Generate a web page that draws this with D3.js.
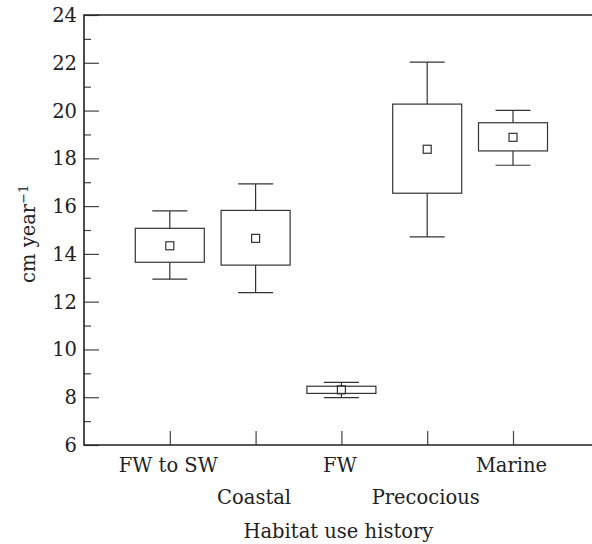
<!DOCTYPE html>
<html>
<head>
<meta charset="utf-8">
<script src="https://cdn.jsdelivr.net/npm/d3@7"></script>
<style>
  body { margin: 0; background: #fff; }
  text { font-family: "DejaVu Serif", serif; fill: #222; }
</style>
</head>
<body>
<svg id="chart" width="592" height="544"></svg>
<script>
// data (cm per year)
const categories = ['FW to SW', 'Coastal', 'FW', 'Precocious', 'Marine']
const whiskerLow = [12.94, 12.38, 7.98, 14.71, 17.71]
const boxLow = [13.65, 13.53, 8.16, 16.54, 18.31]
const means = [14.34, 14.65, 8.31, 18.38, 18.88]
const boxHigh = [15.07, 15.82, 8.46, 20.27, 19.49]
const whiskerHigh = [15.80, 16.93, 8.62, 22.03, 20.01]
const yTicks = [6, 8, 10, 12, 14, 16, 18, 20, 22, 24]
const yMinor = [7, 9, 11, 13, 15, 17, 19, 21, 23]

const svg = d3.select('#chart')
const padLeft = 84, padTop = 15, padBottom = 445, padRight = 592
const fontSize = '19.5px'

const data = categories.map((c, i) => ({
  name: c, pos: i + 1,
  wlo: whiskerLow[i], lo: boxLow[i], mean: means[i], hi: boxHigh[i], whi: whiskerHigh[i]
}))

const x = d3.scaleLinear().domain([0, 6]).range([padLeft, padLeft + 6 * 85.8])
const y = d3.scaleLinear().domain([6, 24]).range([padBottom, padTop])

const boxW = 69, capW = 35, meanS = 8
const ink = '#222'

// y axis ticks, major and minor, pointing inward
const yAxis = svg.append('g')
  .attr('transform', `translate(${padLeft},0)`)
  .call(d3.axisRight(y).tickValues(yTicks).tickSize(15).tickFormat(''))
yAxis.select('.domain').remove()
yAxis.selectAll('line').attr('stroke', '#444').attr('stroke-width', 1.2)

const yMin = svg.append('g')
  .attr('transform', `translate(${padLeft},0)`)
  .call(d3.axisRight(y).tickValues(yMinor).tickSize(7).tickFormat(''))
yMin.select('.domain').remove()
yMin.selectAll('line').attr('stroke', '#444').attr('stroke-width', 1.2)

svg.append('g').selectAll('text')
  .data(yTicks)
  .join('text')
  .attr('x', 77)
  .attr('y', d => y(d))
  .attr('dy', '0.36em')
  .attr('text-anchor', 'end')
  .style('font-size', fontSize)
  .text(d => d)

// x ticks
const xAxis = svg.append('g')
  .attr('transform', `translate(0,${padBottom})`)
  .call(d3.axisTop(x).tickValues(data.map(d => d.pos)).tickSize(14).tickFormat(''))
xAxis.select('.domain').remove()
xAxis.selectAll('line').attr('stroke', '#444').attr('stroke-width', 1.2)

// frame: top, left and bottom lines
svg.append('path')
  .attr('d', `M${padRight},${padTop}H${padLeft}V${padBottom}H${padRight}`)
  .attr('fill', 'none')
  .attr('stroke', ink)
  .attr('stroke-width', 1.6)

// category labels, staggered in two rows
svg.append('g').selectAll('text')
  .data(data)
  .join('text')
  .attr('x', d => x(d.pos) - 1.5)
  .attr('y', (d, i) => i % 2 === 0 ? 472 : 504)
  .attr('text-anchor', 'middle')
  .style('font-size', fontSize)
  .text(d => d.name)

svg.append('text')
  .attr('x', x(3) - 3)
  .attr('y', 538)
  .attr('text-anchor', 'middle')
  .style('font-size', fontSize)
  .text('Habitat use history')

// y title
const yt = svg.append('text')
  .attr('transform', `translate(35,${y(14.84)}) rotate(-90)`)
  .attr('text-anchor', 'middle')
  .style('font-size', fontSize)
yt.append('tspan').text('cm year')
yt.append('tspan').attr('dy', '-0.55em').style('font-size', '13px').text('\u22121')

// boxes
const g = svg.append('g').attr('stroke', '#333').attr('stroke-width', 1.2).attr('fill', 'none')
const box = g.selectAll('.box').data(data).join('g').attr('class', 'box')

box.append('line')
  .attr('x1', d => x(d.pos)).attr('x2', d => x(d.pos))
  .attr('y1', d => y(d.whi)).attr('y2', d => y(d.hi))
box.append('line')
  .attr('x1', d => x(d.pos)).attr('x2', d => x(d.pos))
  .attr('y1', d => y(d.lo)).attr('y2', d => y(d.wlo))
box.append('line')
  .attr('x1', d => x(d.pos) - capW / 2).attr('x2', d => x(d.pos) + capW / 2)
  .attr('y1', d => y(d.whi)).attr('y2', d => y(d.whi))
box.append('line')
  .attr('x1', d => x(d.pos) - capW / 2).attr('x2', d => x(d.pos) + capW / 2)
  .attr('y1', d => y(d.wlo)).attr('y2', d => y(d.wlo))
box.append('rect')
  .attr('x', d => x(d.pos) - boxW / 2)
  .attr('width', boxW)
  .attr('y', d => y(d.hi))
  .attr('height', d => y(d.lo) - y(d.hi))
box.append('rect')
  .attr('x', d => x(d.pos) - meanS / 2)
  .attr('width', meanS)
  .attr('y', d => y(d.mean) - meanS / 2)
  .attr('height', meanS)
</script>
</body>
</html>
